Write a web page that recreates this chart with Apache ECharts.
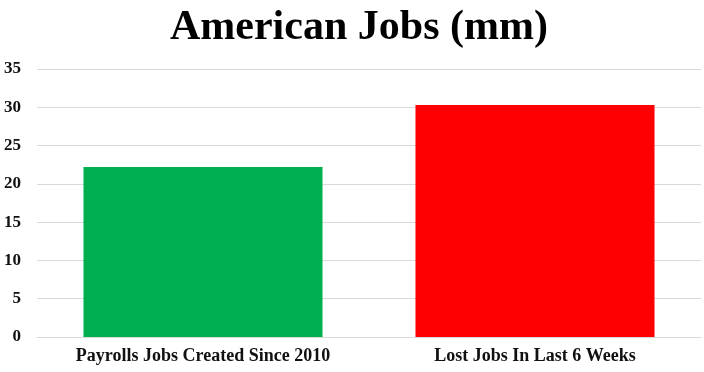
<!DOCTYPE html>
<html><head><meta charset="utf-8">
<script src="https://cdn.jsdelivr.net/npm/echarts@6/dist/echarts.min.js"></script>
<style>html,body{margin:0;padding:0;background:#fff}#c{width:704px;height:372px}</style>
</head><body><div id="c"></div>
<script>
const categories = ['Payrolls Jobs Created Since 2010', 'Lost Jobs In Last 6 Weeks'];
const values = [22.2, 30.3];
const barColors = ['#00B050', '#FF0000'];
const titleText = 'American Jobs (mm)';

const chart = echarts.init(document.getElementById('c'), null, {renderer: 'canvas'});
chart.setOption({
  animation: false,
  backgroundColor: '#fff',
  title: {
    text: titleText, left: 165, top: 2,
    textStyle: {fontFamily: 'Liberation Serif', fontWeight: 'bold', fontSize: 42, color: '#000'}
  },
  grid: {left: 37, right: 3, top: 69, bottom: 35, containLabel: false},
  xAxis: {
    type: 'category', data: categories,
    axisLine: {lineStyle: {color: '#d9d9d9'}},
    axisTick: {show: false},
    axisLabel: {fontFamily: 'Liberation Serif', fontWeight: 'bold', fontSize: 18, color: '#111', margin: 10}
  },
  yAxis: {
    type: 'value', min: 0, max: 35, interval: 5,
    axisLine: {show: false}, axisTick: {show: false},
    splitLine: {lineStyle: {color: '#d9d9d9'}},
    axisLabel: {fontFamily: 'Liberation Serif', fontWeight: 'bold', fontSize: 17, color: '#111', margin: 16}
  },
  series: [{
    type: 'bar', barWidth: '72%',
    data: values.map((v, i) => ({value: v, itemStyle: {color: barColors[i]}}))
  }]
});
</script></body></html>
